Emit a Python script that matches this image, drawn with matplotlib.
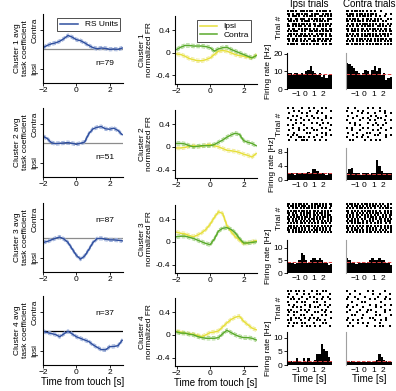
import numpy as np
import matplotlib
matplotlib.use("Agg")
import matplotlib.pyplot as plt

plt.rcParams['font.family'] = ['Liberation Sans', 'DejaVu Sans']
plt.rcParams['font.size'] = 6

W, H = 396, 391

# time grid of the averaged curves [s]
t = [-2, -1.75, -1.5, -1.25, -1, -0.75, -0.5, -0.25, 0, 0.25,
     0.5, 0.75, 1, 1.25, 1.5, 1.75, 2, 2.25, 2.5, 2.75]

clusters = ["Cluster 1", "Cluster 2", "Cluster 3", "Cluster 4"]
n_units = ["n=79", "n=51", "n=87", "n=37"]

# avg task coefficient (RS units)
coef = [
    [0.05, 0.12, 0.17, 0.20, 0.25, 0.33, 0.43, 0.38, 0.30, 0.27,
     0.20, 0.12, 0.05, 0.02, 0.04, 0.03, 0.00, 0.01, 0.00, 0.04],
    [0.22, 0.15, 0.02, -0.01, 0.00, 0.01, 0.02, 0.00, -0.03, 0.00,
     0.04, 0.30, 0.45, 0.50, 0.52, 0.45, 0.44, 0.47, 0.40, 0.27],
    [-0.13, -0.10, -0.05, 0.00, 0.04, -0.02, -0.13, -0.33, -0.53, -0.65,
     -0.55, -0.35, -0.13, -0.01, 0.00, -0.03, -0.05, -0.05, -0.06, -0.08],
    [0.00, -0.04, -0.07, -0.10, -0.17, -0.08, 0.00, -0.08, -0.17, -0.22,
     -0.27, -0.32, -0.42, -0.50, -0.57, -0.58, -0.48, -0.47, -0.45, -0.28],
]
coef_sem = [0.05, 0.05, 0.05, 0.05]

# normalized FR
fr_ipsi = [
    [-0.02, -0.03, -0.06, -0.10, -0.12, -0.14, -0.14, -0.12, -0.09, -0.03,
     0.03, 0.04, 0.03, 0.00, -0.03, -0.05, -0.06, -0.08, -0.09, -0.04],
    [-0.02, -0.02, -0.01, 0.01, 0.02, 0.01, 0.01, 0.03, 0.04, 0.02,
     0.00, -0.03, -0.06, -0.07, -0.08, -0.10, -0.13, -0.15, -0.18, -0.12],
    [0.17, 0.15, 0.14, 0.11, 0.09, 0.12, 0.16, 0.22, 0.31, 0.43,
     0.53, 0.50, 0.29, 0.18, 0.09, 0.03, -0.03, -0.02, 0.00, 0.02],
    [0.06, 0.05, 0.03, 0.02, 0.01, -0.01, -0.03, 0.00, 0.04, 0.05,
     0.07, 0.14, 0.21, 0.27, 0.31, 0.33, 0.24, 0.18, 0.12, 0.09],
]
fr_contra = [
    [0.06, 0.10, 0.13, 0.13, 0.12, 0.12, 0.12, 0.11, 0.09, 0.03,
     0.07, 0.09, 0.10, 0.06, 0.03, 0.00, -0.03, -0.06, -0.09, -0.05],
    [0.06, 0.06, 0.05, 0.02, 0.00, 0.01, 0.02, 0.02, 0.02, 0.04,
     0.08, 0.12, 0.17, 0.21, 0.24, 0.22, 0.11, 0.08, 0.06, 0.02],
    [0.09, 0.10, 0.10, 0.08, 0.06, 0.03, 0.00, -0.03, -0.05, 0.05,
     0.19, 0.24, 0.25, 0.22, 0.16, 0.06, -0.02, -0.02, -0.01, 0.00],
    [0.05, 0.03, 0.03, 0.01, 0.00, -0.03, -0.05, -0.06, -0.06, -0.06,
     -0.05, 0.02, 0.08, 0.04, 0.00, -0.03, -0.05, -0.05, -0.06, -0.09],
]
fr_sem = 0.03

# example unit PSTHs, 0.25 s bins from -2 to 3 s
psth_ipsi = [
    [9, 9, 8, 9, 9, 8, 9, 8, 10, 11, 13, 10, 9, 8, 9, 7, 8, 6, 8, 8],
    [2, 2, 2, 1.5, 2, 2, 2, 2, 2, 2.2, 2, 3, 3, 2.5, 2, 2, 2, 1.5, 2, 2],
    [4.5, 4, 4, 3.5, 4, 5, 8, 7, 5, 4, 5, 6, 6, 5, 6, 5, 4, 4, 3, 3.5],
    [1.5, 1.5, 1, 1, 2.5, 1, 1, 2.5, 1, 2.5, 1, 1, 2, 4, 4, 7.5, 6, 5, 3, 1.5],
]
psth_contra = [
    [15, 14, 13, 12, 10, 9, 8, 9, 11, 10, 8, 11, 13, 10, 12, 8, 9, 5, 6, 7],
    [2, 3, 3.5, 2, 2, 2, 1.5, 2, 2, 2, 1.5, 2, 2, 5.5, 4, 2.5, 2, 2, 2, 2],
    [6, 5, 4, 4, 3.5, 4, 4, 4, 4, 4.5, 5, 6, 5, 5, 6, 5, 5, 4, 4, 3],
    [1.5, 1, 1.5, 1.5, 1, 1, 1, 1, 1, 1.5, 1, 1, 1.5, 2, 4, 3, 2, 1.5, 1, 1],
]
baseline_ipsi = [8.5, 2.0, 4.5, 1.5]
baseline_contra = [8.5, 1.8, 4.5, 1.3]
psth_ylim = [20.5, 9, 13, 12]
psth_yticks = [[0, 10, 20], [0, 4, 8], [0, 5, 10], [0, 5, 10]]

# spike rasters ('#' = spike), trials from top to bottom, time -2..3 s
raster_ipsi = [
    ["#.##.#..###.#.##..#.#.###.#.", "##.#..##.#.##..#.###..#.##.#",
     ".#.###.#..#.#.##.#..##.#.#.#", "#.#..##.###..#.#.##.#.#..###",
     ".##.#.#..#.###..#.#.##.#.#..", "#..###.#.##.#.#.##..#.#.##.#",
     "##.#.#.##..#.##..#.##.#.#.#.", ".#.##..#.#.##.#.#.#..##.#.##",
     "#.#.###..#.#..##.##.#.#.##.#", ".##.#.#.##.#.#.#..#.###.#.#.",
     "#.#..#.##.###.#.##.#.#..#.##", "##.##.#.#..#.##.#..##.#.##.#",
     ".#.#.##.#.#.#..###.#.#.##.#.", "#.###.#..##.#.#.#.##..#.#.##"],
    ["#..#.....#...#..#....#..#...", "....#..#......#....#.......#",
     ".#.......#..#.....#..#......", "...#..#.....#..#........#...",
     "#.......#.......#..#....#..#", "..#..#....#..#.......#......",
     ".....#..#......#..#...#..#..", "#..#......#.........#......#",
     "...#...#....#..#.....#..#...", ".#.....#..#.....#.#.......#.",
     "....#.......#.#......#..#...", "#..#..#...........#.....#..#",
     "..#....##.#..#..#....#......", ".#...#...##.#....#..#...#..."],
    ["##.#.#.##.#.#..#.##.#.#.#.##", "#.##.#.#.###.#.#.#.##.#.#..#",
     ".#.#.##.#.#.##.#.#.#.#.##.#.", "#.#.##.#.##.#.#.##.#.#.#.#.#",
     "##.#.#..#.#.###.#.#.##.#.#..", ".#.##.#.#.#.#.#.##.#.#.#.##.",
     "#.#.#.##.#.##.#.#.#.#.##.#.#", "##.#.#.#.#.#.#.##.#.#.#..#.#",
     ".#.#.##.#.#.#.#.#..#.#.#.#.#", "#.#.#.#.##.#.#.#.#.#.##.#.#.",
     ".##.#.#.#.#.##.#.#.#.#.#.#.#", "#.#.##.#.#.#.#..#.#.#.#.#.#.",
     "##.#.#.#.#.#.#.#.##.#.#.#.#.", ".#.#.#.##.#.#.#.#.#..#.#.#.#"],
    ["#.#..#.#..#....#..#...#.#...", ".#....#...#..#....#.#.....#.",
     "#..#.....#....#.#.....#..#..", "..#.#..#....#.....#..#....#.",
     "#.....#..#.#....#.#....#....", ".#..#......#..#.....#..#..#.",
     "...#..#.#.....#..#.#.....#..", "#.#.....#..#.#.......#..#...",
     ".#..#.#.....#....#.#...#...#", "#...#...#.#....#.....#..#...",
     "..#..#.#...#..#.#..#.......#", "#.#.....#....#....#.#..#....",
     ".#..#.#..#.#....#.....#.#...", "#..#.....#..#.#..#..#.....#."],
]
raster_contra = [
    ["##.#.##.#.#.#..#.#...#......", "#.###.#.##.#.#.##.#.....#..#",
     ".##.#.#.#.##.#.#..#.#..#....", "#.#.##.#..#.##.#.#.#.#...#.#",
     "##.#.#.##.#.#.#.##.#..#.#...", ".#.##.#.#.###.#.#.#.#.#..#.#",
     "#.#.#.##.#.#.##.#..##.#.#.#.", "##.#.#.#.##.#.#.##.#.#.##.#.",
     ".#.###.#.#.#.#..#.#.#.#.#.##", "#.#.#.##.#.#.##.#.#.#.##.#.#",
     "##.#.#.#.#.##.#.#.##.#.#.#..", ".#.##.#.##.#.#.#.#.#.##.#.##",
     "#.#.#.#.#.#.#.##.#.#.#.#.#.#", "##.#.##.#.#.#.#.#.##.#.#.#.#"],
    [".#...#.......#..#...#.......", "#......#..#.........#..#....",
     "...#.....#...#...#.....#...#", ".#....#........#..#.....#...",
     "....#.....#..#.....#.#......", "#.......#.....#..#.....#...#",
     "..#..#.......#....#.....#...", ".....#..#.......#..#..#.....",
     "#..#......#..#.......#.....#", "...#....#.......#..#....#...",
     ".#....#.....#.#.....#.......", "....#.....#......#.#....#..#",
     "#.....#..#...#..........#...", "..#.#......#...#..#.#......."],
    ["#.##.#.#.#.##.#.#.#.#.#..#.#", ".#.#.##.#.#.#.#.##.#.#.#.#..",
     "#.#.#.#.##.#.#.#.#..#.#.##.#", "##.#.#.#.#.#.##.#.#.#..#.#.#",
     ".#.##.#.#.#.#.#.#.##.#.#.#.#", "#.#.#.##.#.#.#.#.#.#..#.#.##",
     "#.#.#.#.#..#.#.##.#.#.#.#.#.", ".#.#.#.#.#.#..#.#.#.##.#.#.#",
     "#.##.#.#..#.#.#.#..#.#.#.##.", ".#.#.#.##.#.#..#.#.#.#..#.#.",
     "#.#.#.#.#.#.##.#.#.#.#.#.#.#", "##.#.#.#.#..#.#.#.#..#.#.#.#",
     ".#.#.##.#.#.#.#.#.#.#.#.#..#", "#.#.#.#.#.#.#.##.#.#.#.#.#.#"],
    ["#....#.......#..#......#....", "..#.....#.......#...#.....#.",
     ".#...#.....#.......#....#...", "#......#......#..#.....#..#.",
     "...#.....#.#.........#......", ".#....#.......#...#....#...#",
     "#...#.....#.......#..#......", "..#.....#....#.#.......#..#.",
     "#.....#.....#.....#....#....", "...#.#....#.......#.#......#",
     ".#.......#....#.#.......#...", "#...#..#.........#...#..#...",
     "..#....#..#..#......#.......", ".#..#.......#....#..#.#...#."],
]

blue, blue_l = "#2f4f9f", "#9fb2dc"
yellow, yellow_l = "#e6df3a", "#f1ec9a"
green, green_l = "#5aaa2c", "#a9d68c"


def ax_px(x0, y0, x1, y1):
    return fig.add_axes([x0 / W, 1 - y1 / H, (x1 - x0) / W, (y1 - y0) / H])


def clean(ax):
    for s in ["top", "right"]:
        ax.spines[s].set_visible(False)
    ax.tick_params(length=2, width=0.6, pad=1.2)


def draw_raster(ax, rows):
    n = len(rows)
    for i, row in enumerate(rows):
        m = len(row)
        xs = [-2 + (j + 0.5) * 5.0 / m for j, c in enumerate(row) if c == "#"]
        ax.plot(xs, [n - i - 0.5] * len(xs), "s", color="k", ms=1.8, mew=0)
    ax.set_xlim(-2, 3)
    ax.set_ylim(0, n)
    ax.set_xticks([])
    ax.set_yticks([])
    for s in ax.spines.values():
        s.set_visible(False)


def draw_psth(ax, vals, base, k, show_y):
    edges = np.linspace(-2, 3, len(vals) + 1)
    ax.bar(edges[:-1], vals, width=edges[1] - edges[0], align="edge",
           color="k", lw=0)
    ax.axhline(base, color="#e04040", ls="--", lw=0.7)
    ax.set_xlim(-2, 3)
    ax.set_ylim(0, psth_ylim[k])
    ax.set_xticks([-1, 0, 1, 2])
    for s in ["top", "right", "bottom"]:
        ax.spines[s].set_visible(False)
    ax.tick_params(axis="x", length=0, pad=1.2)
    ax.tick_params(axis="y", length=2, width=0.6, pad=1.2)
    if show_y:
        ax.set_yticks(psth_yticks[k])
    else:
        ax.set_yticks([])
        ax.spines["left"].set_color("#a0a0a0")


fig = plt.figure(figsize=(W / 100, H / 100), dpi=100)

row_top = [14, 108, 203, 296]
row_h = 69
rast_y = [(10, 45), (107, 141), (203, 233), (290, 327)]
hist_y = [(53, 89), (148, 180), (240, 273), (332, 365)]

for k in range(4):
    top = row_top[k]
    # task coefficient
    ax = ax_px(43, top, 123, top + row_h)
    clean(ax)
    c = np.array(coef[k])
    ax.axhline(0, color="k" if k == 3 else "#8c8c8c", lw=0.9)
    ax.plot(t, c + coef_sem[k], "--", color=blue_l, lw=0.7)
    ax.plot(t, c - coef_sem[k], "--", color=blue_l, lw=0.7)
    ax.plot(t, c, color=blue, lw=1.1, label="RS Units")
    ax.set_xlim(-2, 2.8)
    ax.set_ylim(-1.05, 1.1)
    ax.set_xticks([-2, 0, 2])
    ax.set_yticks([-0.6, 0.6])
    ax.set_yticklabels(["Ipsi", "Contra"], rotation=90, va="center")
    ax.set_ylabel(clusters[k] + " avg\ntask coefficient", labelpad=2,
                  linespacing=1.1)
    if k in (0, 1):
        ax.text(2.3, -0.45, n_units[k], ha="right", va="center")
    else:
        ax.text(2.3, 0.55, n_units[k], ha="right", va="center")
    if k == 0:
        ax.legend(loc="upper right", fontsize=6, frameon=True, fancybox=False,
                  edgecolor="k", handlelength=2.2, borderpad=0.3,
                  bbox_to_anchor=(1.02, 1.0)).get_frame().set_linewidth(0.6)
    if k == 3:
        ax.set_xlabel("Time from touch [s]", fontsize=7, labelpad=0.5)

    # normalized FR
    ax = ax_px(175, top + 2, 257, top + row_h + 1)
    clean(ax)
    yi, yc = np.array(fr_ipsi[k]), np.array(fr_contra[k])
    for y, col, coll in [(yi, yellow, yellow_l), (yc, green, green_l)]:
        ax.plot(t, y + fr_sem, "--", color=coll, lw=0.7)
        ax.plot(t, y - fr_sem, "--", color=coll, lw=0.7)
    ax.plot(t, yi, color=yellow, lw=1.1, label="Ipsi")
    ax.plot(t, yc, color=green, lw=1.1, label="Contra")
    ax.set_xlim(-2.1, 2.8)
    ax.set_ylim(-0.55, 0.65)
    ax.set_xticks([-2, 0, 2])
    ax.set_yticks([-0.4, 0, 0.4])
    ax.set_yticklabels(["-0.4", "0", "0.4"])
    ax.set_ylabel(clusters[k] + "\nnormalized FR", labelpad=2, linespacing=1.1)
    if k == 0:
        ax.legend(loc="upper right", fontsize=6, frameon=True, fancybox=False,
                  edgecolor="k", handlelength=2.0, borderpad=0.3,
                  labelspacing=0.1,
                  bbox_to_anchor=(0.98, 1.0)).get_frame().set_linewidth(0.6)
    if k == 3:
        ax.set_xlabel("Time from touch [s]", fontsize=7, labelpad=0.5)

    # example unit rasters + PSTHs
    for j, (x0, x1) in enumerate([(287, 332), (346, 392)]):
        axr = ax_px(x0, rast_y[k][0], x1, rast_y[k][1])
        draw_raster(axr, raster_ipsi[k] if j == 0 else raster_contra[k])
        axh = ax_px(x0, hist_y[k][0], x1, hist_y[k][1])
        if j == 0:
            draw_psth(axh, psth_ipsi[k], baseline_ipsi[k], k, True)
            axr.set_ylabel("Trial #", labelpad=3)
            axh.set_ylabel("Firing rate [Hz]", labelpad=1)
        else:
            draw_psth(axh, psth_contra[k], baseline_contra[k], k, False)
        if k == 0:
            axr.set_title("Ipsi trials" if j == 0 else "Contra trials",
                          fontsize=7, pad=2)
        if k == 3:
            axh.set_xlabel("Time [s]", fontsize=7, labelpad=0.5)

fig.savefig("out.png", dpi=100)
